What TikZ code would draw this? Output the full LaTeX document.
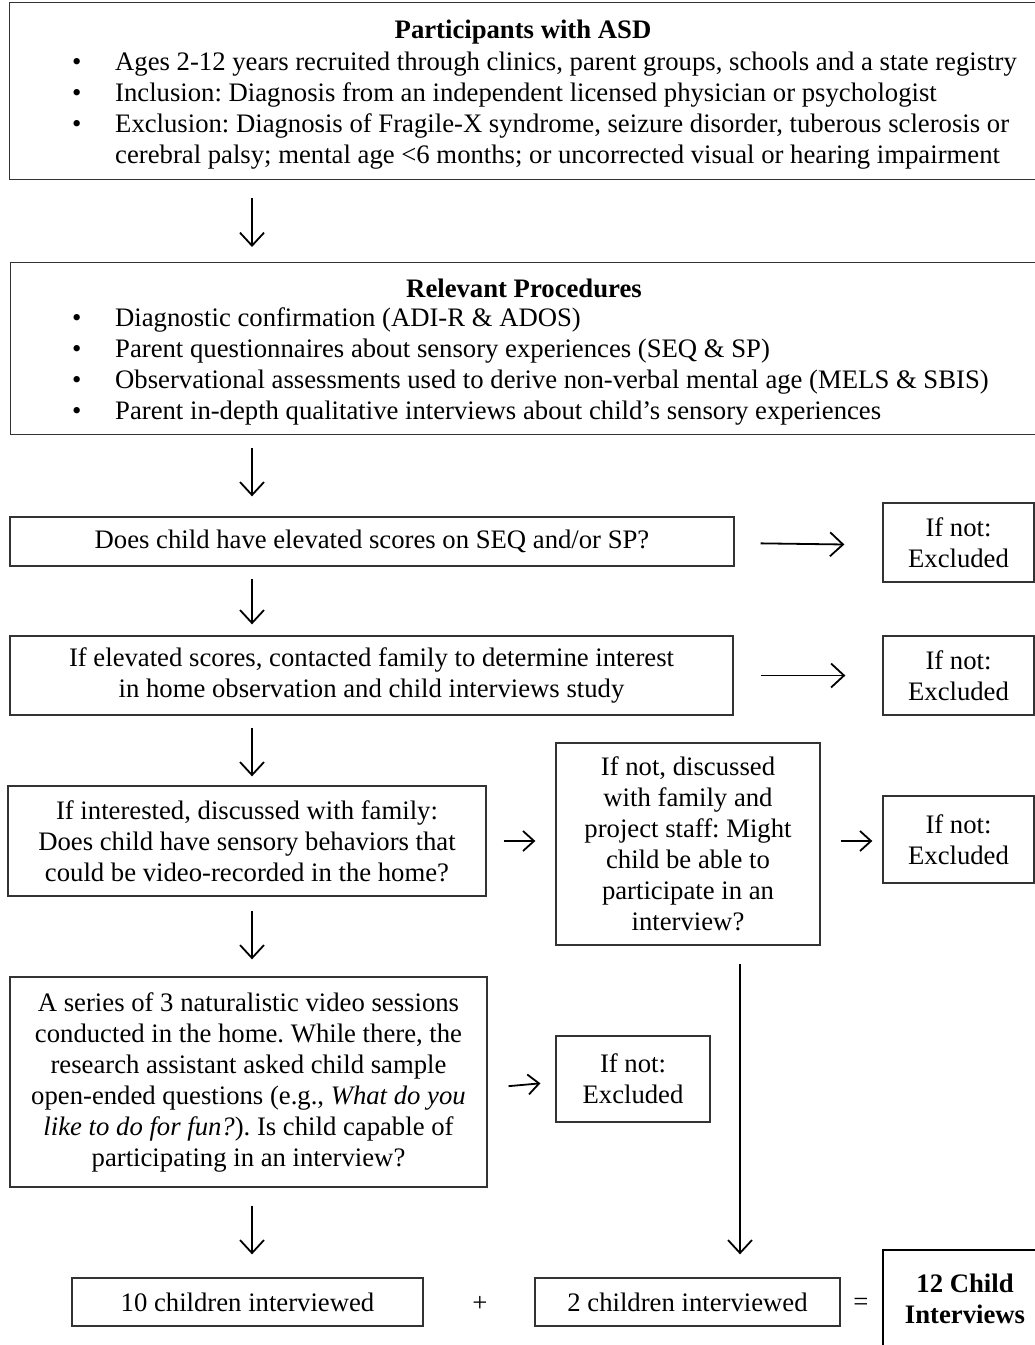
\documentclass[tikz,border=0pt]{standalone}
\usepackage{fontspec}
\setmainfont{Liberation Serif}
\usetikzlibrary{arrows.meta}
\begin{document}
\frenchspacing
\begin{tikzpicture}[x=1pt,y=-1pt,
  txt/.style={font=\fontsize{26.7}{31}\selectfont, inner sep=0pt, align=center},
  box/.style={draw=black!80, line width=1.3pt, inner sep=0pt},
  arr/.style={draw=black, line width=1.8pt, -{Straight Barb[length=13pt,width=24pt,line width=1.8pt]}},
  arrs/.style={draw=black, line width=1.8pt, -{Straight Barb[length=11pt,width=20pt,line width=1.8pt]}}
]
\useasboundingbox (0,0) rectangle (1035,1345);
\clip (0,0) rectangle (1035,1345);
% ---------- Box 1
\node[box, minimum width=1060pt, minimum height=177pt, anchor=north west] (b1) at (9,2) {};
\node[txt, font=\fontsize{26.7}{31}\selectfont\bfseries] (t1) at (523,32) {Participants with ASD};
\node[txt, anchor=north west, align=left] (l1) at (72,49) {%
\begin{tabular}{@{}p{43pt}@{}l@{}}
\textbullet & Ages 2-12 years recruited through clinics, parent groups, schools and a state registry\\
\textbullet & Inclusion: Diagnosis from an independent licensed physician or psychologist\\
\textbullet & Exclusion: Diagnosis of Fragile-X syndrome, seizure disorder, tuberous sclerosis or\\
 & cerebral palsy; mental age <6 months; or uncorrected visual or hearing impairment
\end{tabular}};
% ---------- Box 2
\node[box, minimum width=1060pt, minimum height=172pt, anchor=north west] (b2) at (10,262) {};
\node[txt, font=\fontsize{26.7}{31}\selectfont\bfseries] (t2) at (524,288) {Relevant Procedures};
\node[txt, anchor=north west, align=left] (l2) at (72,305) {%
\begin{tabular}{@{}p{43pt}@{}l@{}}
\textbullet & Diagnostic confirmation (ADI-R \& ADOS)\\
\textbullet & Parent questionnaires about sensory experiences (SEQ \& SP)\\
\textbullet & Observational assessments used to derive non-verbal mental age (MELS \& SBIS)\\
\textbullet & Parent in-depth qualitative interviews about child’s sensory experiences
\end{tabular}};
% ---------- Box 3
\node[box, txt, minimum width=724pt, minimum height=49pt] (b3) at (372,541.5) {Does child have elevated scores on SEQ and/or SP?};
\node[box, txt, minimum width=151pt, minimum height=79pt] (e1) at (958.5,542.5) {If not:\\Excluded};
% ---------- Box 4
\node[box, txt, minimum width=723pt, minimum height=79pt] (b4) at (371.5,675.5) {If elevated scores, contacted family to determine interest\\in home observation and child interviews study};
\node[box, txt, minimum width=151pt, minimum height=79pt] (e2) at (958.5,675.5) {If not:\\Excluded};
% ---------- Box 5
\node[box, txt, minimum width=478pt, minimum height=110pt] (b5) at (247,841) {If interested, discussed with family:\\Does child have sensory behaviors that\\could be video-recorded in the home?};
\node[box, txt, minimum width=264pt, minimum height=202pt] (b6) at (688,844) {If not, discussed\\with family and\\project staff: Might\\child be able to\\participate in an\\interview?};
\node[box, txt, minimum width=151pt, minimum height=87pt] (e3) at (958.5,839.5) {If not:\\Excluded};
% ---------- Box 7
\node[box, txt, minimum width=477pt, minimum height=210pt] (b7) at (248.5,1082) {A series of 3 naturalistic video sessions\\conducted in the home. While there, the\\research assistant asked child sample\\open-ended questions (e.g., \textit{What do you}\\\textit{like to do for fun?}). Is child capable of\\participating in an interview?};
\node[box, txt, minimum width=154pt, minimum height=86pt] (e4) at (633,1079) {If not:\\Excluded};
% ---------- Bottom row
\node[box, txt, minimum width=351pt, minimum height=48pt] (b8) at (247.5,1302) {10 children interviewed};
\node[txt] (plus) at (480,1304) {+};
\node[box, txt, minimum width=305pt, minimum height=48pt] (b9) at (687.5,1302) {2 children interviewed};
\node[txt] (eq) at (861,1304) {=};
\node[txt, font=\fontsize{26.7}{31}\selectfont\bfseries] (b10) at (965,1299) {12 Child\\Interviews};
\draw[black, line width=2.5pt] (1040,1250) -- (883,1250) -- (883,1350);
% ---------- Connectors
\coordinate (cx) at (252,0);
\coordinate (rx) at (740,0);
\draw[arr, shorten <=18pt, shorten >=15pt] (b1.south -| cx) -- (b2.north -| cx);
\draw[arr, shorten <=13pt, shorten >=20pt] (b2.south -| cx) -- (b3.north -| cx);
\draw[arr, shorten <=12pt, shorten >=11pt] (b3.south -| cx) -- (b4.north -| cx);
\draw[arr, shorten <=12pt, shorten >=9pt] (b4.south -| cx) -- (b5.north -| cx);
\draw[arr, shorten <=14pt, shorten >=17pt] (b5.south -| cx) -- (b7.north -| cx);
\draw[arr, shorten <=18pt, shorten >=23pt] (b7.south -| cx) -- (b8.north -| cx);
\draw[arr, shorten <=18pt, shorten >=23pt] (b6.south -| rx) -- (b9.north -| rx);
\draw[arr, shorten <=26pt, shorten >=38pt] ([yshift=-1.5pt]b3.east) -- ([yshift=-2.5pt]e1.west);
\draw[arr, shorten <=27pt, shorten >=37pt] (b4.east) -- (e2.west);
\draw[arrs, shorten <=17pt, shorten >=20pt] (b5.east) -- (b6.west |- b5.east);
\draw[arrs, shorten <=20pt, shorten >=10pt] (b6.east |- b5.east) -- (e3.west |- b5.east);
\draw[arrs, shorten <=21pt, shorten >=15pt] ([yshift=-6pt]b7.east) -- ([yshift=-3pt]e4.west);
\end{tikzpicture}
\end{document}
